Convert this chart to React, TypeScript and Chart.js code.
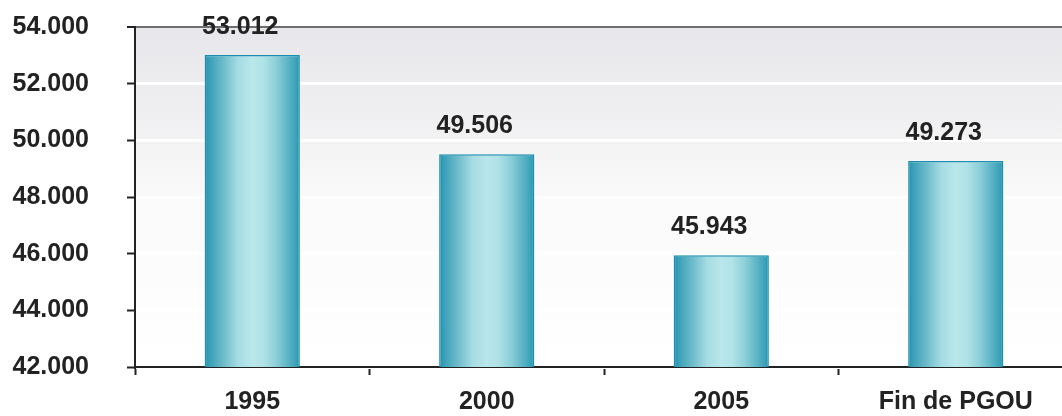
import React, { useEffect, useRef } from "react";
import { Chart, registerables } from "chart.js";

Chart.register(...registerables);

// Población por año
const categories: string[] = ["1995", "2000", "2005", "Fin de PGOU"];
const population: number[] = [53012, 49506, 45943, 49273];
const yMin = 42000;
const yMax = 54000;
const yStep = 2000;

const FONT = "'Liberation Sans', Arial, sans-serif";
const BAR_FRACTION = 0.406;

const fmt = (v: number) => (v / 1000).toFixed(3);

// Soft grey wash behind the plot
const backgroundPlugin = {
  id: "plotBackground",
  beforeDraw(chart: any) {
    const { ctx, chartArea } = chart;
    if (!chartArea) return;
    const g = ctx.createLinearGradient(0, chartArea.top, 0, chartArea.bottom);
    g.addColorStop(0, "#e7e6ea");
    g.addColorStop(0.25, "#efeff1");
    g.addColorStop(0.5, "#fafafa");
    g.addColorStop(1, "#ffffff");
    ctx.save();
    ctx.fillStyle = g;
    ctx.fillRect(chartArea.left, chartArea.top, chartArea.right - chartArea.left, chartArea.bottom - chartArea.top);
    ctx.restore();
  },
};

// Value written above each bar
const valueLabelPlugin = {
  id: "valueLabels",
  afterDatasetsDraw(chart: any) {
    const { ctx } = chart;
    const meta = chart.getDatasetMeta(0);
    ctx.save();
    ctx.font = `bold 25px ${FONT}`;
    ctx.fillStyle = "#222";
    ctx.textAlign = "center";
    ctx.textBaseline = "alphabetic";
    meta.data.forEach((bar: any, i: number) => {
      ctx.fillText(fmt(population[i]), bar.x - 12, bar.y - 21);
    });
    ctx.restore();
  },
};

// Cylinder-like horizontal shading for each bar
function barFill(c: any) {
  const chart = c.chart;
  const xs = chart.scales?.x;
  if (!xs || c.dataIndex == null || !xs.width) return "#6fc0cf";
  const cx = xs.getPixelForValue(c.dataIndex);
  const w = (xs.width / categories.length) * BAR_FRACTION;
  const g = chart.ctx.createLinearGradient(cx - w / 2, 0, cx + w / 2, 0);
  g.addColorStop(0, "#1d8fae");
  g.addColorStop(0.05, "#3a9fb8");
  g.addColorStop(0.2, "#6ebccb");
  g.addColorStop(0.35, "#a6dce3");
  g.addColorStop(0.5, "#b9e7eb");
  g.addColorStop(0.62, "#b0e2e6");
  g.addColorStop(0.75, "#8ccfd9");
  g.addColorStop(0.88, "#5ab3c4");
  g.addColorStop(0.96, "#3aa2b9");
  g.addColorStop(1, "#1e90ae");
  return g;
}

export default function App() {
  const canvasRef = useRef<HTMLCanvasElement | null>(null);

  useEffect(() => {
    if (!canvasRef.current) return;
    const chart = new Chart(canvasRef.current, {
      type: "bar",
      data: {
        labels: categories,
        datasets: [
          {
            data: population,
            backgroundColor: barFill,
            borderColor: "#1a8db0",
            borderWidth: 1.5,
            categoryPercentage: 1,
            barPercentage: BAR_FRACTION,
          },
        ],
      },
      options: {
        animation: false,
        responsive: false,
        devicePixelRatio: 1,
        layout: { padding: { top: 27, right: 7, left: 0, bottom: 0 } },
        plugins: {
          legend: { display: false },
          tooltip: { enabled: false },
        },
        scales: {
          x: {
            offset: true,
            grid: {
              offset: true,
              drawOnChartArea: false,
              drawTicks: true,
              tickLength: 8,
              tickColor: "#222",
              tickWidth: 2,
            },
            border: { display: true, color: "#222", width: 2 },
            ticks: {
              color: "#222",
              padding: 12,
              font: { family: FONT, size: 25, weight: "bold" },
              maxRotation: 0,
            },
            afterFit(scale: any) {
              scale.height = 49;
            },
          },
          y: {
            min: yMin,
            max: yMax,
            grid: {
              color: (c: any) => (c.tick && c.tick.value === yMax ? "#6e6e6e" : "#ffffff"),
              lineWidth: (c: any) => (c.tick && c.tick.value === yMax ? 2 : 3),
              tickColor: "#222",
              tickWidth: 2,
              tickLength: 8,
            },
            border: { display: true, color: "#222", width: 2 },
            ticks: {
              stepSize: yStep,
              color: "#222",
              padding: 38,
              font: { family: FONT, size: 25, weight: "bold" },
              callback: (v: any) => fmt(Number(v)),
            },
            afterFit(scale: any) {
              scale.width = 135;
              scale.paddingTop = 15;
              scale.paddingBottom = 15;
            },
          },
        },
      },
      plugins: [backgroundPlugin, valueLabelPlugin],
    });
    return () => chart.destroy();
  }, []);

  return (
    <div
      style={{
        position: "fixed",
        left: 0,
        top: 0,
        width: 1062,
        height: 416,
        overflow: "hidden",
        background: "#fff",
      }}
    >
      <canvas ref={canvasRef} width={1080} height={416} style={{ display: "block", width: 1080, height: 416 }} />
    </div>
  );
}
